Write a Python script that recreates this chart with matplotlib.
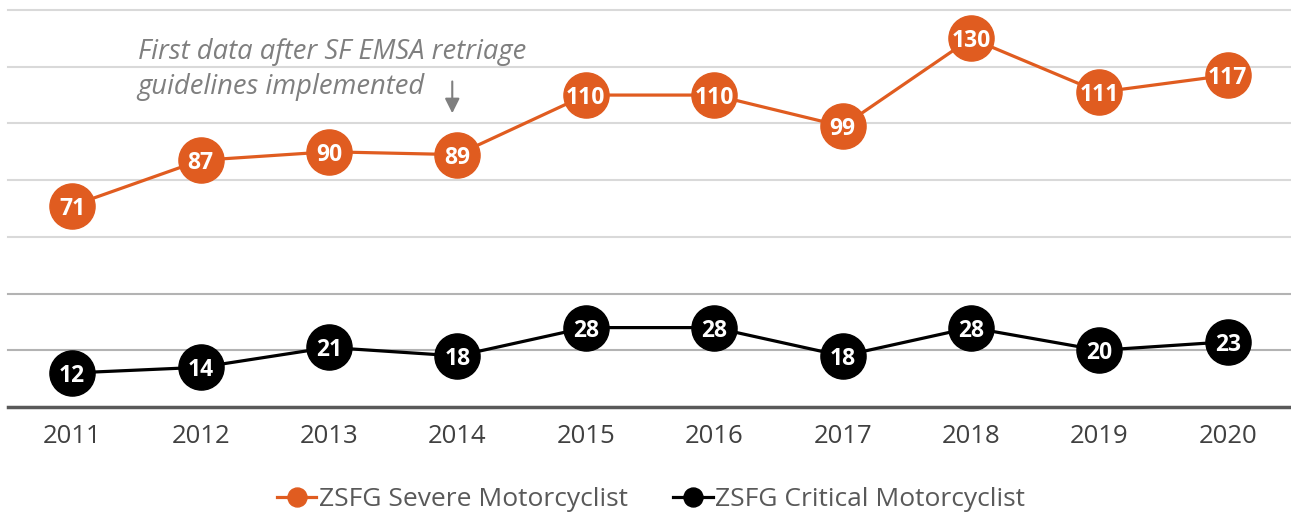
import matplotlib
matplotlib.use("Agg")
import matplotlib.pyplot as plt

years = ["2011", "2012", "2013", "2014", "2015", "2016", "2017", "2018", "2019", "2020"]
severe = [71, 87, 90, 89, 110, 110, 99, 130, 111, 117]
critical = [12, 14, 21, 18, 28, 28, 18, 28, 20, 23]
severe_label = "ZSFG Severe Motorcyclist"
critical_label = "ZSFG Critical Motorcyclist"
annotation = "First data after SF EMSA retriage\nguidelines implemented"

plt.rcParams['font.family'] = ['Open Sans', 'DejaVu Sans']

fig = plt.figure(figsize=(12.91, 5.16), dpi=100)
ax = fig.add_axes([8/1291, 1-407/516, 1284/1291, 397/516])

x = list(range(len(years)))
orange = "#E05C20"

ax.set_xlim(-0.5, len(years) - 0.5)
ax.set_ylim(0, 140)

grid_colors = {20: "#b3b3b3", 40: "#b3b3b3", 60: "#d9d9d9", 80: "#d9d9d9",
               100: "#d9d9d9", 120: "#d9d9d9", 140: "#d9d9d9"}
for v, c in grid_colors.items():
    ax.axhline(v, color=c, lw=1.5, zorder=0, clip_on=False)
ax.axhline(0, color="#595959", lw=2.5, zorder=1, clip_on=False)

ax.plot(x, severe, color=orange, lw=2.3, marker="o", ms=32.5, mec=orange,
        mfc=orange, label=severe_label, zorder=3)
ax.plot(x, critical, color="black", lw=2.3, marker="o", ms=32.5, mec="black",
        mfc="black", label=critical_label, zorder=3)

for xi, v in zip(x, severe):
    ax.text(xi, v, str(v), color="white", fontsize=16.5, fontweight="bold",
            ha="center", va="center_baseline", zorder=4)
for xi, v in zip(x, critical):
    ax.text(xi, v, str(v), color="white", fontsize=16.5, fontweight="bold",
            ha="center", va="center_baseline", zorder=4)

ax.text(0.51, 119.0, annotation, fontsize=19.7, style="italic", color="#7f7f7f",
        ha="left", va="center", linespacing=1.3, transform=ax.transData)
ax.annotate("", xy=(2.96, 103.6), xytext=(2.96, 114.8),
            arrowprops=dict(arrowstyle="-|>", color="#7f7f7f", lw=1.5,
                            mutation_scale=22, shrinkA=0, shrinkB=0))

ax.set_xticks(x)
ax.set_xticklabels(years, fontsize=18.5, color="#404040")
ax.tick_params(axis="x", length=0, pad=12)
ax.set_yticks([])
for s in ax.spines.values():
    s.set_visible(False)

leg = fig.legend(loc="center", bbox_to_anchor=(651/1291, 1-500/516), ncol=2,
                 frameon=False, fontsize=19, markerscale=0.42,
                 handlelength=1.5, columnspacing=1.7, handletextpad=0.1)
for t in leg.get_texts():
    t.set_color("#595959")

fig.savefig("out.png", dpi=100)
